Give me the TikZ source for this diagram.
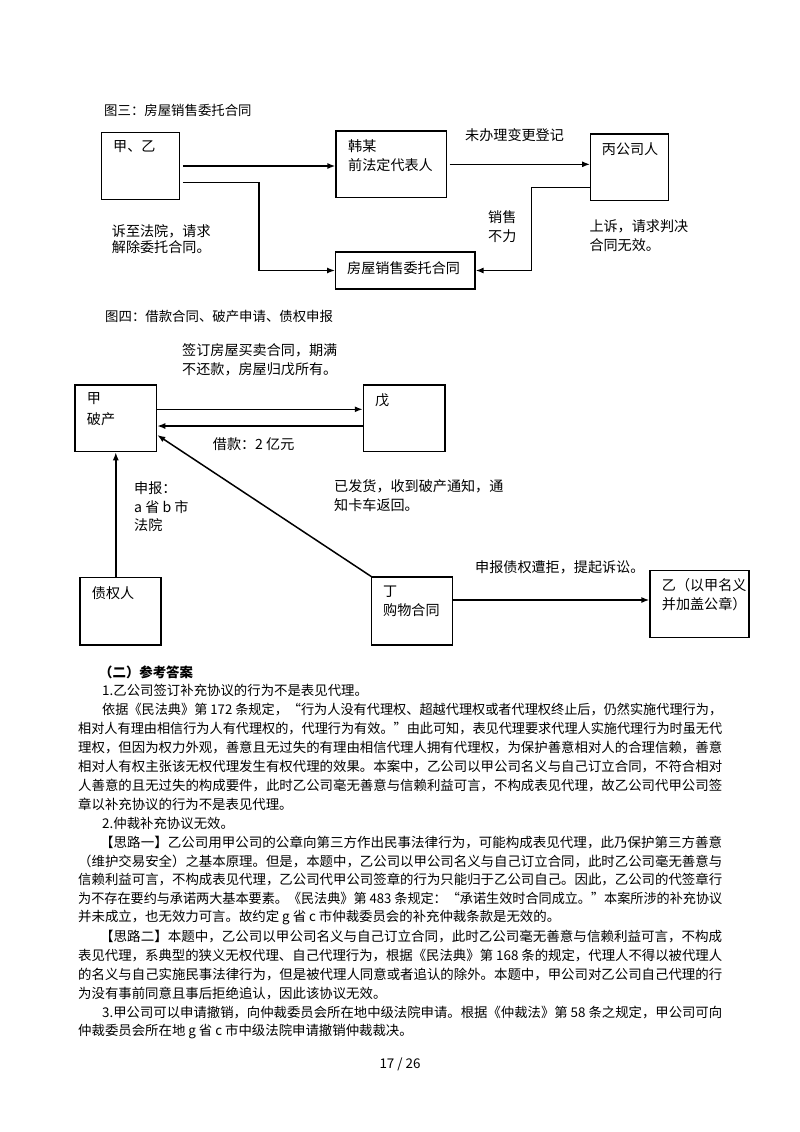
\documentclass[tikz,border=0pt]{standalone}
\usepackage{graphicx}
\usepackage{fontspec}
\setmainfont{Noto Sans CJK SC}
\usetikzlibrary{arrows.meta, calc}
\newcommand{\dgfont}{\fontsize{14.1}{18.5}\selectfont}
\newcommand{\bdfont}{\fontsize{13.4}{18.9}\selectfont}
\newcommand{\jline}[2]{\resizebox{#1}{\height}{#2}}

\begin{document}
\begin{tikzpicture}[x=1pt, y=-1pt,
    box/.style={draw, black, line width=1.2pt, inner sep=0pt},
    txt/.style={inner sep=0pt, anchor=west, font=\dgfont},
    mltxt/.style={inner sep=0pt, anchor=north west, align=left, font=\dgfont},
    bodytxt/.style={inner sep=0pt, anchor=west, font=\bdfont},
    arr/.style={line width=1.5pt, black, -{Latex[length=8pt, width=6pt]}}]
            \fill[white] (0,0) rectangle (800,1132);
            \useasboundingbox (0,0) rectangle (800,1132);

            % figure three
            \node[bodytxt] (titleA) at (104,110) {图三：房屋销售委托合同};
            \node[box, minimum width=77.6pt, minimum height=66.6pt] (jiayi) at (140.5,166) {};
            \node[box, minimum width=110.5pt, minimum height=66.5pt] (hanmou) at (391.3,164.3) {};
            \node[box, minimum width=77.6pt, minimum height=66.7pt] (bing) at (629.5,167.3) {};
            \node[box, minimum width=139.3pt, minimum height=37pt] (weituo) at (405.3,270.5) {};

            \node[txt] (tjiayi) at (113,147) {甲、乙};
            \node[mltxt] (thanmou) at (348,139.5) {韩某\\前法定代表人};
            \node[txt] (tbing) at (601.7,149) {丙公司人};
            \node[txt] (tweituo) at (347,268) {房屋销售委托合同};

            \draw[arr] ([xshift=3pt]jiayi.east) -- (jiayi.east -| hanmou.west);% to Han
            \draw[arr] ([xshift=2.5pt]hanmou.east) -- (hanmou.east -| bing.west) ;% to Bing
            \draw[arr] ([xshift=3pt,yshift=-16.7pt]jiayi.east) -- ++(76.3,0) |- (weituo.west);
            \draw[arr] ([yshift=-20.4pt]bing.west) -- ++(-58.4,0) |- (weituo.east);

            \node[txt] (lbiangeng) at (465,135) {未办理变更登记};
            \node[mltxt] (lxiaoshou) at (488,210.5) {销售\\不力};
            \node[mltxt, font=\fontsize{14.1}{16}\selectfont] (lsuzhi) at (111.7,224.5) {诉至法院，请求\\解除委托合同。};
            \node[mltxt] (lshangsu) at (589.3,219.5) {上诉，请求判决\\合同无效。};

            % figure four
            \node[bodytxt] (titleB) at (105,316.7) {图四：借款合同、破产申请、债权申报};
            \node[mltxt] (lqianding) at (182,343.5) {签订房屋买卖合同，期满\\不还款，房屋归戊所有。};

            \node[box, minimum width=81.7pt, minimum height=66.7pt] (jia) at (115.8,418.3) {};
            \node[box, minimum width=81.7pt, minimum height=66.7pt] (wu) at (404.2,418.3) {};
            \node[box, minimum width=81pt, minimum height=67.7pt] (zhaiquan) at (120.5,611.2) {};
            \node[box, minimum width=81pt, minimum height=68pt] (ding) at (412.2,611) {};
            \node[box, minimum width=99pt, minimum height=66.6pt] (yi) at (699.5,604) {};

            \node[mltxt, font=\fontsize{14.1}{21}\selectfont] (tjia) at (86.7,392.5) {甲\\破产};
            \node[txt] (twu) at (375,400) {戊};
            \node[txt] (tzhaiquan) at (91.7,592.7) {债权人};
            \node[mltxt] (tding) at (383,586.2) {丁\\购物合同};
            \node[mltxt] (tyi) at (661.7,578.5) {乙（以甲名义\\并加盖公章）};

            \draw[arr] ([yshift=9pt]jia.east) -- ([yshift=9pt]jia.east -| wu.west);
            \draw[arr] ([yshift=-7.7pt]wu.west) -- ([yshift=-7.7pt]wu.west -| jia.east);
            \draw[arr] (jia.south |- zhaiquan.north) -- (jia.south);% claim filed
            \draw[arr] (ding.north west) -- ([yshift=-16.7pt]jia.east);
            \draw[arr] ([yshift=11pt]ding.east) -- ([yshift=11pt]ding.east -| yi.west);

            \node[txt] (ljiekuan) at (212.7,444) {借款：2 亿元};
            \node[mltxt] (lshenbao) at (134,481.5) {申报：\\a 省 b 市\\法院};
            \node[mltxt] (lfahuo) at (334,479.5) {已发货，收到破产通知，通\\知卡车返回。};
            \node[txt] (lsusong) at (475,567) {申报债权遭拒，提起诉讼。};

            % answer text
            \node[bodytxt] (b0) at (99,672) {\bfseries （二）参考答案};
            \node[bodytxt] (b1) at (102,690.9) {1.乙公司签订补充协议的行为不是表见代理。};
            \node[bodytxt] (b2) at (102,709.8) {\jline{620pt}{依据《民法典》第 172 条规定，“行为人没有代理权、超越代理权或者代理权终止后，仍然实施代理行为，}};
            \node[bodytxt] (b3) at (78,728.7) {\jline{644pt}{相对人有理由相信行为人有代理权的，代理行为有效。”由此可知，表见代理要求代理人实施代理行为时虽无代}};
            \node[bodytxt] (b4) at (78,747.6) {\jline{644pt}{理权，但因为权力外观，善意且无过失的有理由相信代理人拥有代理权，为保护善意相对人的合理信赖，善意}};
            \node[bodytxt] (b5) at (78,766.5) {\jline{644pt}{相对人有权主张该无权代理发生有权代理的效果。本案中，乙公司以甲公司名义与自己订立合同，不符合相对}};
            \node[bodytxt] (b6) at (78,785.4) {\jline{644pt}{人善意的且无过失的构成要件，此时乙公司毫无善意与信赖利益可言，不构成表见代理，故乙公司代甲公司签}};
            \node[bodytxt] (b7) at (78,804.3) {章以补充协议的行为不是表见代理。};
            \node[bodytxt] (b8) at (102,823.2) {2.仲裁补充协议无效。};
            \node[bodytxt] (b9) at (100,842.1) {\jline{622pt}{【思路一】乙公司用甲公司的公章向第三方作出民事法律行为，可能构成表见代理，此乃保护第三方善意}};
            \node[bodytxt] (b10) at (78,861) {\jline{644pt}{（维护交易安全）之基本原理。但是，本题中，乙公司以甲公司名义与自己订立合同，此时乙公司毫无善意与}};
            \node[bodytxt] (b11) at (78,879.9) {\jline{644pt}{信赖利益可言，不构成表见代理，乙公司代甲公司签章的行为只能归于乙公司自己。因此，乙公司的代签章行}};
            \node[bodytxt] (b12) at (78,898.8) {\jline{644pt}{为不存在要约与承诺两大基本要素。《民法典》第 483 条规定：“承诺生效时合同成立。”本案所涉的补充协议}};
            \node[bodytxt] (b13) at (78,917.7) {并未成立，也无效力可言。故约定 g 省 c 市仲裁委员会的补充仲裁条款是无效的。};
            \node[bodytxt] (b14) at (100,936.6) {\jline{622pt}{【思路二】本题中，乙公司以甲公司名义与自己订立合同，此时乙公司毫无善意与信赖利益可言，不构成}};
            \node[bodytxt] (b15) at (78,955.5) {\jline{644pt}{表见代理，系典型的狭义无权代理、自己代理行为，根据《民法典》第 168 条的规定，代理人不得以被代理人}};
            \node[bodytxt] (b16) at (78,974.4) {\jline{644pt}{的名义与自己实施民事法律行为，但是被代理人同意或者追认的除外。本题中，甲公司对乙公司自己代理的行}};
            \node[bodytxt] (b17) at (78,993.3) {为没有事前同意且事后拒绝追认，因此该协议无效。};
            \node[bodytxt] (b18) at (102,1012.2) {\jline{620pt}{3.甲公司可以申请撤销，向仲裁委员会所在地中级法院申请。根据《仲裁法》第 58 条之规定，甲公司可向}};
            \node[bodytxt] (b19) at (78,1031.1) {仲裁委员会所在地 g 省 c 市中级法院申请撤销仲裁裁决。};

            \node[bodytxt, anchor=center] (pagenum) at (400,1064) {17 / 26};
        \end{tikzpicture}
\end{document}
